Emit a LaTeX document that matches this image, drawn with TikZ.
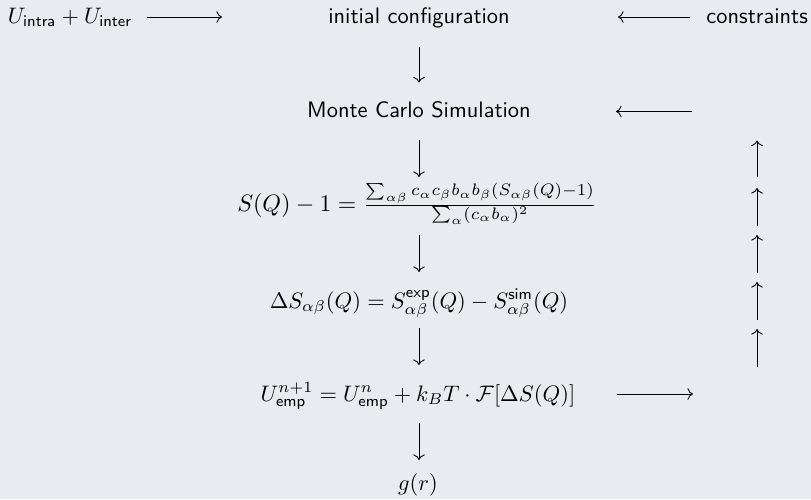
\documentclass[tikz,border=0pt]{standalone}
\usepackage{amsmath}
\usepackage{graphicx}
\usetikzlibrary{arrows.meta}
\definecolor{bg}{RGB}{232,236,240}
\begin{document}
\begin{tikzpicture}[x=0.4464pt,y=-0.4464pt,
  lbl/.style={inner sep=0pt,anchor=base},
  arr/.style={line width=0.4pt,-{Computer Modern Rightarrow}}]
\fill[bg] (0,0) rectangle (811,499);
\useasboundingbox (0,0) rectangle (811,499);
% text nodes
\node[lbl,anchor=base west] (uin) at (7.5,23) {$U_{\mathsf{intra}}+U_{\mathsf{inter}}$};
\node[lbl] (init) at (419,23) {\sffamily initial configuration};
\node[lbl,anchor=base west] (cons) at (706,23) {\sffamily constraints};
\node[lbl] (mc) at (419,117) {\sffamily Monte Carlo Simulation};
\node[lbl] (sq) at (417,211) {\scalebox{1.06}{$S(Q)-1=\frac{\sum_{\alpha\beta} c_\alpha c_\beta b_\alpha b_\beta (S_{\alpha\beta}(Q)-1)}{\sum_\alpha (c_\alpha b_\alpha)^2}$}};
\node[lbl] (ds) at (419,308) {$\Delta S_{\alpha\beta}(Q)=S^{\mathsf{exp}}_{\alpha\beta}(Q)-S^{\mathsf{sim}}_{\alpha\beta}(Q)$};
\node[lbl] (ue) at (418,401) {$U^{n+1}_{\mathsf{emp}}=U^{n}_{\mathsf{emp}}+k_BT\cdot\mathcal{F}[\Delta S(Q)]$};
\node[lbl] (gr) at (418,490) {$g(r)$};
% arrow end points
\coordinate (h1a) at (147,17);  \coordinate (h1b) at (222,17);
\coordinate (h2a) at (690,17);  \coordinate (h2b) at (618,17);
\coordinate (h3a) at (692,111.5); \coordinate (h3b) at (616,111.5);
\coordinate (h4a) at (617,394); \coordinate (h4b) at (693,394);
\coordinate (v1a) at (419,47);  \coordinate (v1b) at (419,82.5);
\coordinate (v2a) at (419,140); \coordinate (v2b) at (419,177);
\coordinate (v3a) at (419,235); \coordinate (v3b) at (419,272);
\coordinate (v4a) at (419,328); \coordinate (v4b) at (419,365);
\coordinate (v5a) at (419,423); \coordinate (v5b) at (419,460);
\coordinate (u1a) at (757,177); \coordinate (u1b) at (757,140.5);
\coordinate (u2a) at (757,226); \coordinate (u2b) at (757,188);
\coordinate (u3a) at (757,272.5); \coordinate (u3b) at (757,235);
\coordinate (u4a) at (757,319.5); \coordinate (u4b) at (757,282);
\coordinate (u5a) at (757,367); \coordinate (u5b) at (757,329);
% arrows
\draw[arr] (h1a) -- (h1b);
\draw[arr] (h2a) -- (h2b);
\draw[arr] (h3a) -- (h3b);
\draw[arr] (h4a) -- (h4b);
\foreach \i in {1,...,5}{
  \draw[arr] (v\i a) -- (v\i b);
  \draw[arr] (u\i a) -- (u\i b);
}
\end{tikzpicture}
\end{document}
